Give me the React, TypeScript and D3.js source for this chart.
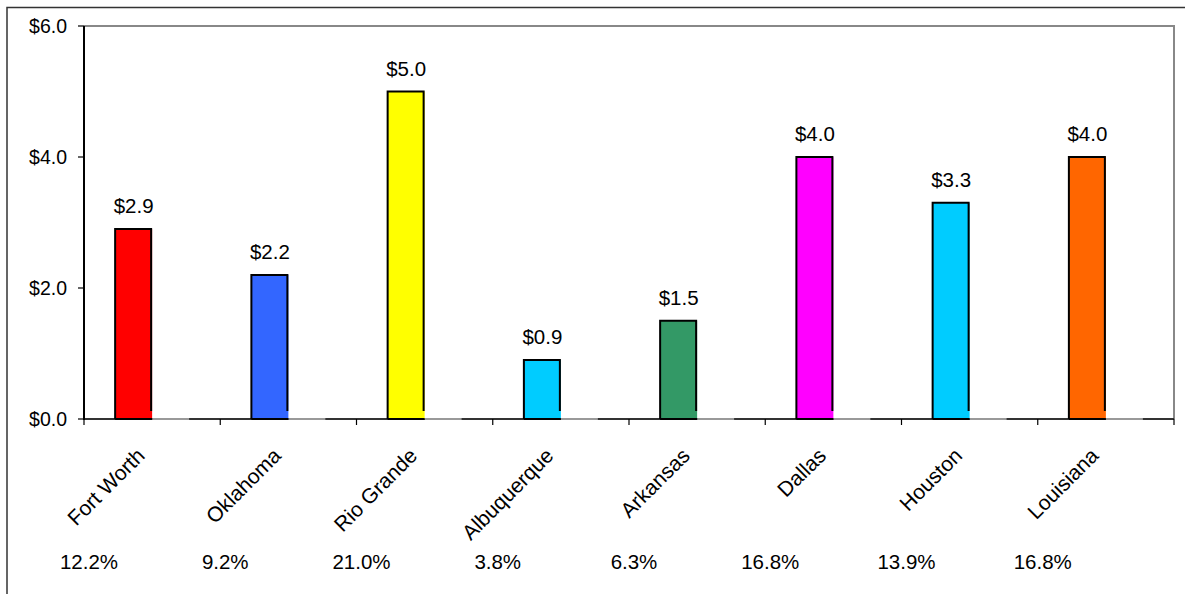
import React from "react";
import * as d3 from "d3";

const categories = ["Fort Worth", "Oklahoma", "Rio Grande", "Albuquerque", "Arkansas", "Dallas", "Houston", "Louisiana"];
const values = [2.9, 2.2, 5.0, 0.9, 1.5, 4.0, 3.3, 4.0];
const shares = ["12.2%", "9.2%", "21.0%", "3.8%", "6.3%", "16.8%", "13.9%", "16.8%"];
const barColors = ["#FF0000", "#3366FF", "#FFFF00", "#00CCFF", "#339966", "#FF00FF", "#00CCFF", "#FF6600"];
const yTicks = [0, 2, 4, 6];
const seriesKeys = ["value", "blank"];

const W = 1185;
const H = 594;
const plot = { left: 84, top: 26, right: 1174, bottom: 419 };
const FONT = "'Liberation Sans', Arial, sans-serif";

export default function App() {
  const x = d3
    .scaleBand<string>()
    .domain(categories)
    .range([plot.left, plot.right])
    .paddingInner(0.457)
    .paddingOuter(0.2285);
  const xs = d3.scaleBand<string>().domain(seriesKeys).range([0, x.bandwidth()]);
  const y = d3.scaleLinear().domain([0, 6]).range([plot.bottom, plot.top]);
  const step = x.step();
  const fmt = (v: number) => "$" + d3.format(".1f")(v);

  return (
    <svg
      width={W}
      height={H}
      style={{ position: "absolute", left: 0, top: 0, background: "#fff" }}
      fontFamily={FONT}
    >
      <rect x={0} y={0} width={W} height={H} fill="#fff" />
      {/* outer chart frame */}
      <rect x={7} y={7.5} width={W + 20} height={H + 20} fill="none" stroke="#333" strokeWidth={1.5} />
      {/* plot area border (top, right) */}
      <path
        d={`M${plot.left},${plot.top}H${plot.right}V${plot.bottom}`}
        fill="none"
        stroke="#888"
        strokeWidth={2}
      />
      {/* x axis */}
      <line x1={plot.left} x2={plot.right} y1={plot.bottom} y2={plot.bottom} stroke="#333" strokeWidth={2} />
      {/* zero-height second series outlines */}
      {categories.map((c) => {
        const bx = (x(c) as number) + (xs("blank") as number);
        return (
          <line key={"b" + c} x1={bx} x2={bx + xs.bandwidth()} y1={plot.bottom} y2={plot.bottom} stroke="#999" strokeWidth={2} />
        );
      })}
      {/* x ticks */}
      {categories.map((c, i) => {
        const tx = plot.left + i * step;
        return <line key={"t" + c} x1={tx} x2={tx} y1={plot.bottom} y2={plot.bottom + 6} stroke="#000" strokeWidth={1.2} />;
      })}
      <line x1={plot.right} x2={plot.right} y1={plot.bottom} y2={plot.bottom + 6} stroke="#000" strokeWidth={1.2} />
      {/* y axis */}
      <line x1={plot.left} x2={plot.left} y1={plot.top} y2={plot.bottom + 1} stroke="#000" strokeWidth={2} />
      {yTicks.map((t) => (
        <g key={"y" + t}>
          <line x1={plot.left - 6} x2={plot.left} y1={y(t)} y2={y(t)} stroke="#000" strokeWidth={1.2} />
          <text x={67} y={y(t)} dy="0.36em" textAnchor="end" fontSize={19.5} fill="#000">
            {fmt(t)}
          </text>
        </g>
      ))}
      {/* bars */}
      {categories.map((c, i) => {
        const bx = (x(c) as number) + (xs("value") as number);
        const bw = xs.bandwidth();
        const top = y(values[i]);
        const bottom = y(0);
        return (
          <g key={"bar" + c}>
            <rect x={bx} y={top} width={bw} height={bottom - top} fill={barColors[i]} />
            <path
              d={`M${bx},${bottom}V${top}H${bx + bw - 1}V${bottom - 8}`}
              fill="none"
              stroke="#000"
              strokeWidth={2}
            />
            <line x1={bx} x2={bx + bw} y1={bottom} y2={bottom} stroke="#000" strokeWidth={2} />
            <text x={bx + bw / 2} y={top - 16} textAnchor="middle" fontSize={20.5} fill="#000">
              {fmt(values[i])}
            </text>
          </g>
        );
      })}
      {/* category labels */}
      {categories.map((c) => {
        const cx = (x(c) as number) + x.bandwidth() / 2;
        return (
          <text
            key={"l" + c}
            transform={`translate(${cx - 6},${plot.bottom + 38}) rotate(-45)`}
            textAnchor="end"
            fontSize={21}
            fill="#000"
          >
            {c}
          </text>
        );
      })}
      {/* share labels */}
      {categories.map((c, i) => (
        <text
          key={"s" + c}
          x={plot.left + i * step + 5}
          y={569}
          textAnchor="middle"
          fontSize={20.5}
          fill="#000"
        >
          {shares[i]}
        </text>
      ))}
    </svg>
  );
}
